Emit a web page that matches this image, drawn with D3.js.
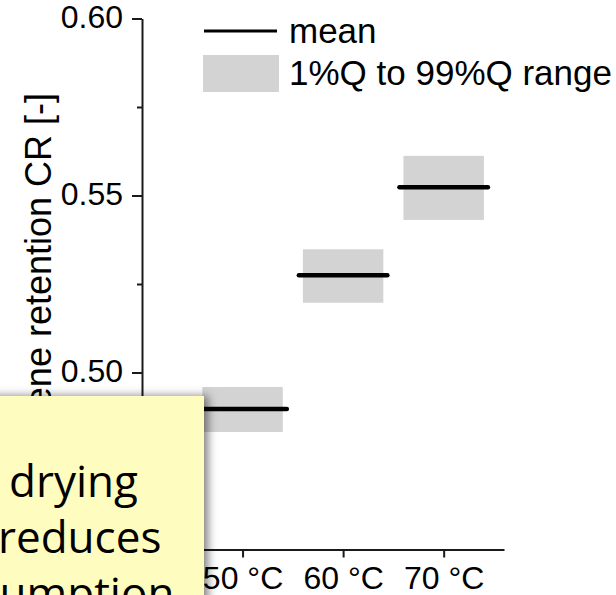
<!DOCTYPE html>
<html>
<head>
<meta charset="utf-8">
<script src="https://cdn.jsdelivr.net/npm/d3@7"></script>
<style>
  html, body { margin: 0; padding: 0; background: #fff; overflow: hidden; }
  svg { display: block; }
</style>
</head>
<body>
<script>
// Drying temperature groups and retention statistics
const temperatures = [50, 60, 70];
const tempLabels = ["50 °C", "60 °C", "70 °C"];
const meanValues = [0.4897, 0.5275, 0.5523];
const q01Values = [0.4832, 0.5197, 0.5431];
const q99Values = [0.4959, 0.5348, 0.5612];
const yMajorTicks = [0.50, 0.55, 0.60];
const yMinorTicks = [0.475, 0.525, 0.575];
const legendLabels = ["mean", "1%Q to 99%Q range"];
const noteLines = ["drying", "reduces", "consumption"];

const W = 616, H = 595;
const svg = d3.select("body").append("svg").attr("width", W).attr("height", H);

const x = d3.scaleLinear().domain([40, 76]).range([142, 504]);
const y = d3.scaleLinear().domain([0.45, 0.60]).range([549.5, 18.5]);

const axisColor = "#1a1a1a";
const tickFont = "'Liberation Sans', Arial, sans-serif";

// Quantile range boxes
const boxHalf = 4;
svg.append("g").selectAll("rect").data(temperatures).join("rect")
  .attr("x", d => x(d - boxHalf))
  .attr("width", d => x(d + boxHalf) - x(d - boxHalf))
  .attr("y", (d, i) => y(q99Values[i]))
  .attr("height", (d, i) => y(q01Values[i]) - y(q99Values[i]))
  .attr("fill", "#d3d3d3");

// Mean lines
const lineHalf = 4.4;
svg.append("g").selectAll("line").data(temperatures).join("line")
  .attr("x1", d => x(d - lineHalf))
  .attr("x2", d => x(d + lineHalf))
  .attr("y1", (d, i) => y(meanValues[i]))
  .attr("y2", (d, i) => y(meanValues[i]))
  .attr("stroke", "#000").attr("stroke-width", 4.5).attr("stroke-linecap", "round");

// Y axis with major and minor ticks
const yAxis = d3.axisLeft(y).tickValues(yMajorTicks).tickFormat(d3.format(".2f"))
  .tickSizeInner(10).tickSizeOuter(0).tickPadding(9);
const gy = svg.append("g").attr("transform", `translate(${x(40)},0)`).call(yAxis);
svg.append("g").attr("transform", `translate(${x(40)},0)`)
  .call(d3.axisLeft(y).tickValues(yMinorTicks).tickFormat("").tickSizeInner(5).tickSizeOuter(0))
  .select(".domain").remove();

// X axis
const xAxis = d3.axisBottom(x).tickValues(temperatures).tickFormat((d, i) => tempLabels[i])
  .tickSizeInner(8).tickSizeOuter(0).tickPadding(6);
const gx = svg.append("g").attr("transform", `translate(0,${y(0.45)})`).call(xAxis);

svg.selectAll(".domain").attr("stroke", axisColor).attr("stroke-width", 2);
svg.selectAll(".tick line").attr("stroke", axisColor).attr("stroke-width", 2);
svg.selectAll(".tick text").attr("font-family", tickFont).attr("font-size", 32).attr("fill", "#000");
gy.selectAll(".tick text").attr("dy", "0.28em");
gx.selectAll(".tick text").attr("dy", "0.8em");

// Y axis title
svg.append("text")
  .attr("transform", `translate(51,93) rotate(-90)`)
  .attr("text-anchor", "end")
  .attr("font-family", tickFont).attr("font-size", 36).attr("fill", "#000")
  .text("β-carotene retention CR [-]");

// Legend
const lg = svg.append("g");
lg.append("line").attr("x1", 204).attr("x2", 277).attr("y1", 31).attr("y2", 31)
  .attr("stroke", "#000").attr("stroke-width", 3);
lg.append("rect").attr("x", 203).attr("y", 55).attr("width", 76).attr("height", 37).attr("fill", "#d3d3d3");
lg.selectAll("text").data(legendLabels).join("text")
  .attr("x", 289).attr("y", (d, i) => 43 + i * 42)
  .attr("font-family", tickFont).attr("font-size", 35).attr("fill", "#000")
  .text(d => d);

// Note box overlay with soft shadow
const defs = svg.append("defs");
const f = defs.append("filter").attr("id", "noteShadow")
  .attr("x", "-20%").attr("y", "-20%").attr("width", "140%").attr("height", "140%");
f.append("feDropShadow").attr("dx", 4).attr("dy", 0).attr("stdDeviation", 5)
  .attr("flood-color", "#000").attr("flood-opacity", 0.5);

const note = svg.append("g");
note.append("rect").attr("x", -20).attr("y", 396).attr("width", 224).attr("height", 260)
  .attr("fill", "#fffcc0").attr("filter", "url(#noteShadow)");
const noteX = [9, -2, -96];
note.selectAll("text").data(noteLines).join("text")
  .attr("x", (d, i) => noteX[i]).attr("y", (d, i) => 497 + i * 56)
  .attr("font-family", "'Open Sans', 'Noto Sans', sans-serif").attr("font-size", 44)
  .attr("fill", "#000")
  .text(d => d);
</script>
</body>
</html>
